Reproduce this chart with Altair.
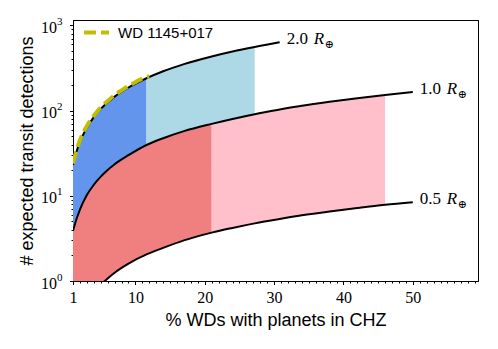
import altair as alt
import pandas as pd

# ---- values ----
x_grid = [1, 1.5, 2, 3, 4, 5, 5.6, 7, 9, 11.6, 14, 17, 21, 24, 27.2, 30.8, 34, 38, 42, 46, 50]
n_10 = [3.9, 5.3, 6.9, 10.2, 13.5, 16.8, 18.8, 23.5, 30, 39.5, 47.5, 57.5, 70, 80, 91, 103, 114, 127, 140, 153, 166]
n_05 = [0.18, 0.27, 0.36, 0.53, 0.71, 0.89, 1.0, 1.25, 1.6, 2.05, 2.45, 3.0, 3.7, 4.2, 4.75, 5.35, 5.9, 6.55, 7.2, 7.85, 8.4]
x_20 = [1, 1.5, 2, 3, 4, 5, 5.6, 7, 9, 11.6, 14, 17, 21, 24, 27.2, 30.8]
n_20 = [23, 33, 43, 63, 84, 105, 117, 146, 187, 240, 290, 352, 433, 495, 560, 635]
wd_x = [1, 1.5, 2, 3, 4, 5, 6, 7, 8, 9, 10, 11, 12]
wd_n = [24, 34, 45, 66, 87, 109, 130, 152, 173, 195, 216, 238, 252]
wd_name = "WD 1145+017"
band_blue_end = 11.6
band_lightblue_end = 27.2
band_coral_end = 21
band_pink_end = 46
radius_labels = ["2.0", "1.0", "0.5"]
x_major = [1, 10, 20, 30, 40, 50]
x_minor = [v for v in range(2, 60) if v not in (10, 20, 30, 40, 50)]
y_major = [1, 10, 100, 1000]
y_minor = [2, 3, 4, 5, 6, 7, 8, 9, 20, 30, 40, 50, 60, 70, 80, 90,
           200, 300, 400, 500, 600, 700, 800, 900]

XDOM = [1, 59.4]
YDOM = [1, 1160]

# ---- tables ----
n20_map = dict(zip(x_20, n_20))
full = pd.DataFrame({"x": x_grid, "n10": n_10, "n05": n_05})
full["n20"] = full["x"].map(n20_map)

blue = full[full.x <= band_blue_end]
lblue = full[(full.x >= band_blue_end) & (full.x <= band_lightblue_end)]
coral = full[full.x <= band_coral_end]
pink = full[(full.x >= band_coral_end) & (full.x <= band_pink_end)]

curves = pd.concat([
    pd.DataFrame({"x": x_20, "n": n_20, "r": "2.0"}),
    pd.DataFrame({"x": x_grid, "n": n_10, "r": "1.0"}),
    pd.DataFrame({"x": x_grid, "n": n_05, "r": "0.5"}),
])
wd = pd.DataFrame({"x": wd_x, "n": wd_n, "series": wd_name})
labels = pd.DataFrame({
    "x": [x_20[-1], x_grid[-1], x_grid[-1]],
    "n": [n_20[-1], n_10[-1], n_05[-1]],
    "num": radius_labels,
})

xs = alt.Scale(domain=XDOM, nice=False, zero=False)
ys = alt.Scale(type="log", domain=YDOM, nice=False)
XN = alt.X("x:Q", scale=xs, axis=None)
YN = alt.Y("n:Q", scale=ys, axis=None)


def area(df, color):
    return alt.Chart(df).mark_area(color=color, opacity=1, clip=True,
                                   interpolate="monotone").encode(
        x=XN, y=alt.Y("top:Q", scale=ys, axis=None), y2="bot:Q")


a_blue = area(blue.rename(columns={"n20": "top", "n10": "bot"}), "#6495ED")
a_lblue = area(lblue.rename(columns={"n20": "top", "n10": "bot"}), "#ADD8E6")
a_coral = area(coral.rename(columns={"n10": "top", "n05": "bot"}), "#F08080")
a_pink = area(pink.rename(columns={"n10": "top", "n05": "bot"}), "#FFC0CB")

lines = alt.Chart(curves).mark_line(color="black", strokeWidth=2, clip=True,
                                    interpolate="monotone").encode(
    x=XN, y=YN, detail="r:N")

wd_line = alt.Chart(wd).mark_line(strokeWidth=4, strokeDash=[12, 5], clip=True,
                                  interpolate="monotone").encode(
    x=XN, y=YN,
    color=alt.Color("series:N", scale=alt.Scale(range=["#BFBF00"]),
                    legend=alt.Legend(
                        title=None, orient="none", legendX=9, legendY=-2,
                        symbolType="stroke", symbolStrokeWidth=4,
                        symbolDash=[12, 5], symbolSize=625,
                        labelFont="Liberation Sans", labelFontSize=15,
                        labelColor="black", labelOffset=7, padding=0)))

base_lab = alt.Chart(labels).encode(x=XN, y=YN)
t_num = base_lab.mark_text(align="left", baseline="middle", dx=7, dy=-3,
                           font="Liberation Serif", fontSize=17,
                           color="black").encode(text="num:N")
t_r = base_lab.mark_text(align="left", baseline="middle", dx=34, dy=-3,
                         font="Liberation Serif", fontSize=17, fontStyle="italic",
                         color="black", text="R")
t_o = base_lab.mark_text(align="left", baseline="middle", dx=45, dy=3,
                         font="DejaVu Serif", fontSize=11, color="black",
                         text="\u2295")

content = alt.layer(a_blue, a_lblue, a_coral, a_pink, lines, wd_line,
                    t_num, t_r, t_o)

major = alt.Chart(curves).mark_point(opacity=0).encode(
    x=alt.X("x:Q", scale=xs, axis=alt.Axis(
        orient="bottom", values=x_major, tickSize=3.5, tickColor="black",
        tickWidth=1, domainColor="black", labelFont="Liberation Serif",
        labelFontSize=16, labelColor="black", labelPadding=5,
        labelFlush=False, labelOverlap=False,
        title="% WDs with planets in CHZ", titleFont="Liberation Sans",
        titleFontSize=18, titleFontWeight="normal", titleColor="black",
        titlePadding=6, grid=False)),
    y=alt.Y("n:Q", scale=ys, axis=alt.Axis(
        orient="left", values=y_major, labelExpr="'10'", tickSize=3.5,
        tickColor="black", domainColor="black", labelFont="Liberation Serif",
        labelFontSize=16, labelColor="black", labelPadding=13, labelOffset=2,
        labelFlush=False, labelOverlap=False,
        title="# expected transit detections", titleFont="Liberation Sans",
        titleFontSize=18, titleFontWeight="normal", titleColor="black",
        titlePadding=4, grid=False)))

minor = alt.Chart(curves).mark_point(opacity=0).encode(
    x=alt.X("x:Q", scale=xs, axis=alt.Axis(
        orient="bottom", values=x_minor, tickSize=2, tickColor="black",
        labels=False, domain=False, grid=False, title=None)),
    y=alt.Y("n:Q", scale=ys, axis=alt.Axis(
        orient="left", values=y_minor, tickSize=2, tickColor="black",
        labels=False, domain=False, grid=False, title=None)))

sup = alt.Chart(curves).mark_point(opacity=0).encode(
    x=alt.X("x:Q", scale=xs, axis=alt.Axis(
        orient="top", ticks=False, labels=False, domainColor="black",
        grid=False, title=None)),
    y=alt.Y("n:Q", scale=ys, axis=alt.Axis(
        orient="left", values=y_major,
        labelExpr="'' + round(log(datum.value) / LN10)",
        ticks=False, tickSize=0, domain=False, grid=False, title=None,
        labelFont="Liberation Serif", labelFontSize=11, labelColor="black",
        labelPadding=11, labelOffset=-4, labelFlush=False, labelOverlap=False)))

frame = alt.Chart(curves).mark_point(opacity=0).encode(
    x=XN,
    y=alt.Y("n:Q", scale=ys, axis=alt.Axis(
        orient="right", ticks=False, labels=False, domainColor="black",
        grid=False, title=None)))

chart = alt.layer(content, major, minor, sup, frame).resolve_axis(
    x="independent", y="independent").properties(
    width=405, height=261,
    autosize=alt.AutoSizeParams(type="none"),
    padding={"left": 65, "top": 12, "right": 12, "bottom": 50},
).configure_view(stroke="black", strokeWidth=1)

chart.save("out.html", embed_options={"renderer": "svg", "actions": False})
